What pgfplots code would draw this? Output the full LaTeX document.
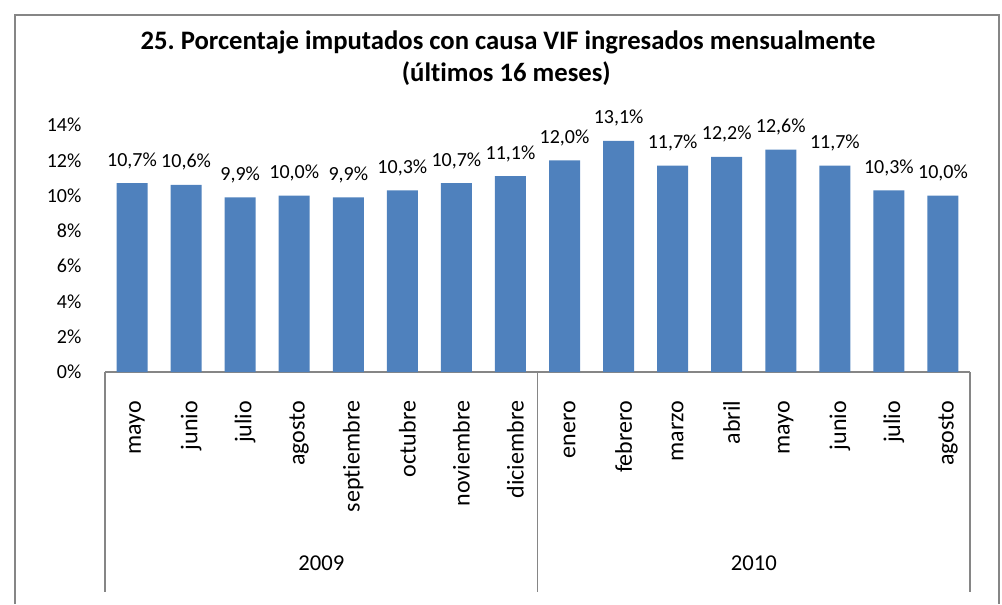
\documentclass[border=0pt]{standalone}
\usepackage{pgfplots}
\pgfplotsset{compat=1.18}
\usepackage{fontspec}
\setmainfont{Carlito}[Ligatures={NoCommon}]
\definecolor{barblue}{HTML}{4F81BD}
\definecolor{axgray}{HTML}{868686}
\frenchspacing
\begin{document}
\begin{tikzpicture}
\useasboundingbox (-78.75pt,-174pt) rectangle (672.75pt,279pt);
\draw[axgray, line width=1.4pt] (-67.5pt,-174pt) -- (-67.5pt,267.75pt) -- (670.5pt,267.75pt) -- (670.5pt,-174pt);
\begin{axis}[
  at={(0,0)}, anchor=south west,
  scale only axis,
  width=648.75pt, height=185.25pt,
  xmin=-0.5, xmax=15.5,
  ymin=0, ymax=14,
  axis lines*=left,
  x axis line style={axgray, line width=0.8pt, -},
  y axis line style={draw=none},
  xtick style={draw=none},
  ytick style={draw=none},
  ytick={0,2,4,6,8,10,12,14},
  yticklabels={0\%,2\%,4\%,6\%,8\%,10\%,12\%,14\%},
  yticklabel style={font=\fontsize{15}{18}\selectfont, anchor=east, inner sep=0pt, xshift=-17.5pt},
  xtick={0,...,15},
  xticklabels={mayo,junio,julio,agosto,septiembre,octubre,noviembre,diciembre,enero,febrero,marzo,abril,mayo,junio,julio,agosto},
  xticklabel shift=17.25pt,
  xticklabel style={font=\fontsize{18}{21}\selectfont, xshift=3.75pt, rotate=90, anchor=east, inner sep=0pt},
  /pgf/number format/assume math mode=true,
  clip=false,
  ybar, bar width=23.25pt,
  nodes near coords={\pgfmathprintnumber[fixed,fixed zerofill,precision=1,use comma]{\pgfplotspointmeta}\%},
  every node near coord/.append style={font=\fontsize{15}{18}\selectfont, anchor=base, inner sep=0pt, yshift=12.75pt, black},
]
\addplot[fill=barblue, draw=none] coordinates {
(0,10.7) (1,10.6) (2,9.9) (3,10.0) (4,9.9) (5,10.3) (6,10.7) (7,11.1)
(8,12.0) (9,13.1) (10,11.7) (11,12.2) (12,12.6) (13,11.7) (14,10.3) (15,10.0)};
\draw[axgray, line width=0.8pt] (axis cs:-0.5,0) -- ([yshift=-165pt]axis cs:-0.5,0);
\draw[axgray, line width=0.8pt] (axis cs:7.5,0) -- ([yshift=-165pt]axis cs:7.5,0);
\draw[axgray, line width=0.8pt] (axis cs:15.5,0) -- ([yshift=-165pt]axis cs:15.5,0);
\node[anchor=base, font=\fontsize{17}{20}\selectfont] at ([yshift=-148.5pt]axis cs:3.5,0) {2009};
\node[anchor=base, font=\fontsize{17}{20}\selectfont] at ([yshift=-148.5pt]axis cs:11.5,0) {2010};
\end{axis}
\node[anchor=base, font=\bfseries\fontsize{20}{24}\selectfont] at (302.25pt,241.5pt) {25. Porcentaje imputados con causa VIF ingresados mensualmente};
\node[anchor=base, font=\bfseries\fontsize{20}{24}\selectfont] at (301pt,218.25pt) {(últimos 16 meses)};
\end{tikzpicture}
\end{document}
